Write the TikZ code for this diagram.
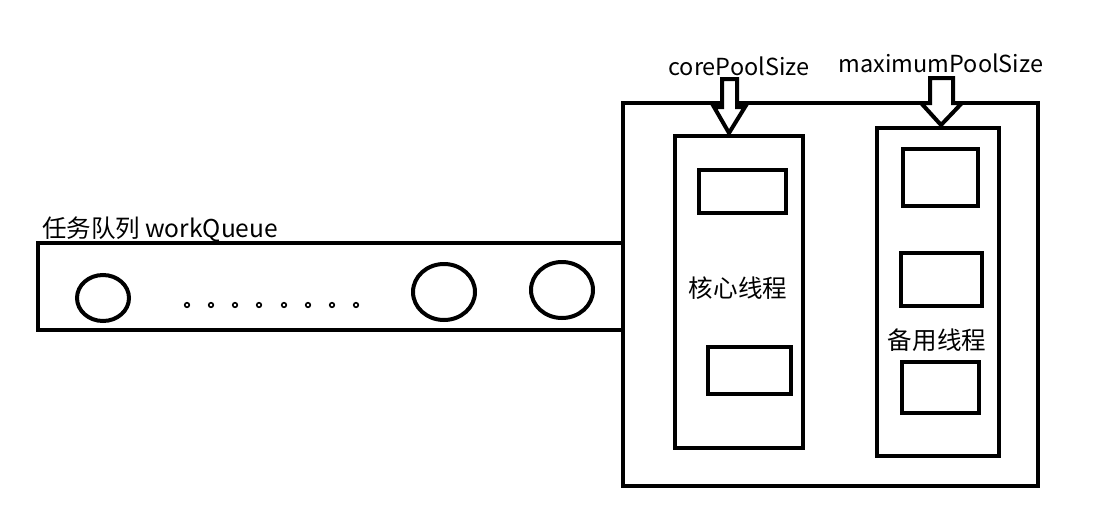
\documentclass[tikz,border=0pt]{standalone}
\usepackage{fontspec}
\setmainfont{Noto Sans CJK SC}
\begin{document}
\begin{tikzpicture}[x=0.75pt,y=-0.75pt,
  box/.style={draw=black,line width=3pt},
  thin/.style={draw=black,line width=1.2pt},
  lbl/.style={font=\fontsize{18.4}{20}\selectfont,inner sep=0pt},
  lbllat/.style={font=\fontsize{17.6}{20}\selectfont,inner sep=0pt},
  fatarrow/.style={draw=black,line width=3pt,line join=miter,fill=white}]
\useasboundingbox (0,0) rectangle (1098,521);
% queue
\draw[box] (38,243) rectangle (623,330);
\node[lbl,anchor=west] (qlabel) at (42,229) {任务队列\hspace{0.2em}workQueue};
\draw[box] (103,298) ellipse [x radius=26,y radius=23];
\draw[box] (444,292) ellipse [x radius=31,y radius=28];
\draw[box] (562,290) ellipse [x radius=31,y radius=28];
\foreach \x in {187,211,235,259,284,308,332,356}
  \draw[thin] (\x,305) circle [radius=2.3];
% pool
\draw[box] (623,103) rectangle (1038,486);
% core
\draw[box] (675,136) rectangle (803,448);
\draw[box] (699,170) rectangle (786,213);
\draw[box] (708,347) rectangle (791,394);
\node[lbl] (core) at (738,288) {核心线程};
% spare
\draw[box] (877,128) rectangle (999,456);
\draw[box] (903,149) rectangle (978,206);
\draw[box] (901,253) rectangle (982,306);
\draw[box] (902,362) rectangle (979,413);
\node[lbl] (spare) at (937,340) {备用线程};
% labels
\node[lbllat] (corelbl) at (739,66) {corePoolSize};
\node[lbllat] (maxlbl) at (941,63) {maximumPoolSize};
% arrows
\draw[fatarrow] (722,79) -- (737,79) -- (737,107) -- (745,107) -- (729,133) -- (714,107) -- (722,107) -- cycle;
\draw[fatarrow] (930,78) -- (953,78) -- (953,103) -- (962,103) -- (941,125) -- (921,103) -- (930,103) -- cycle;
\end{tikzpicture}
\end{document}
